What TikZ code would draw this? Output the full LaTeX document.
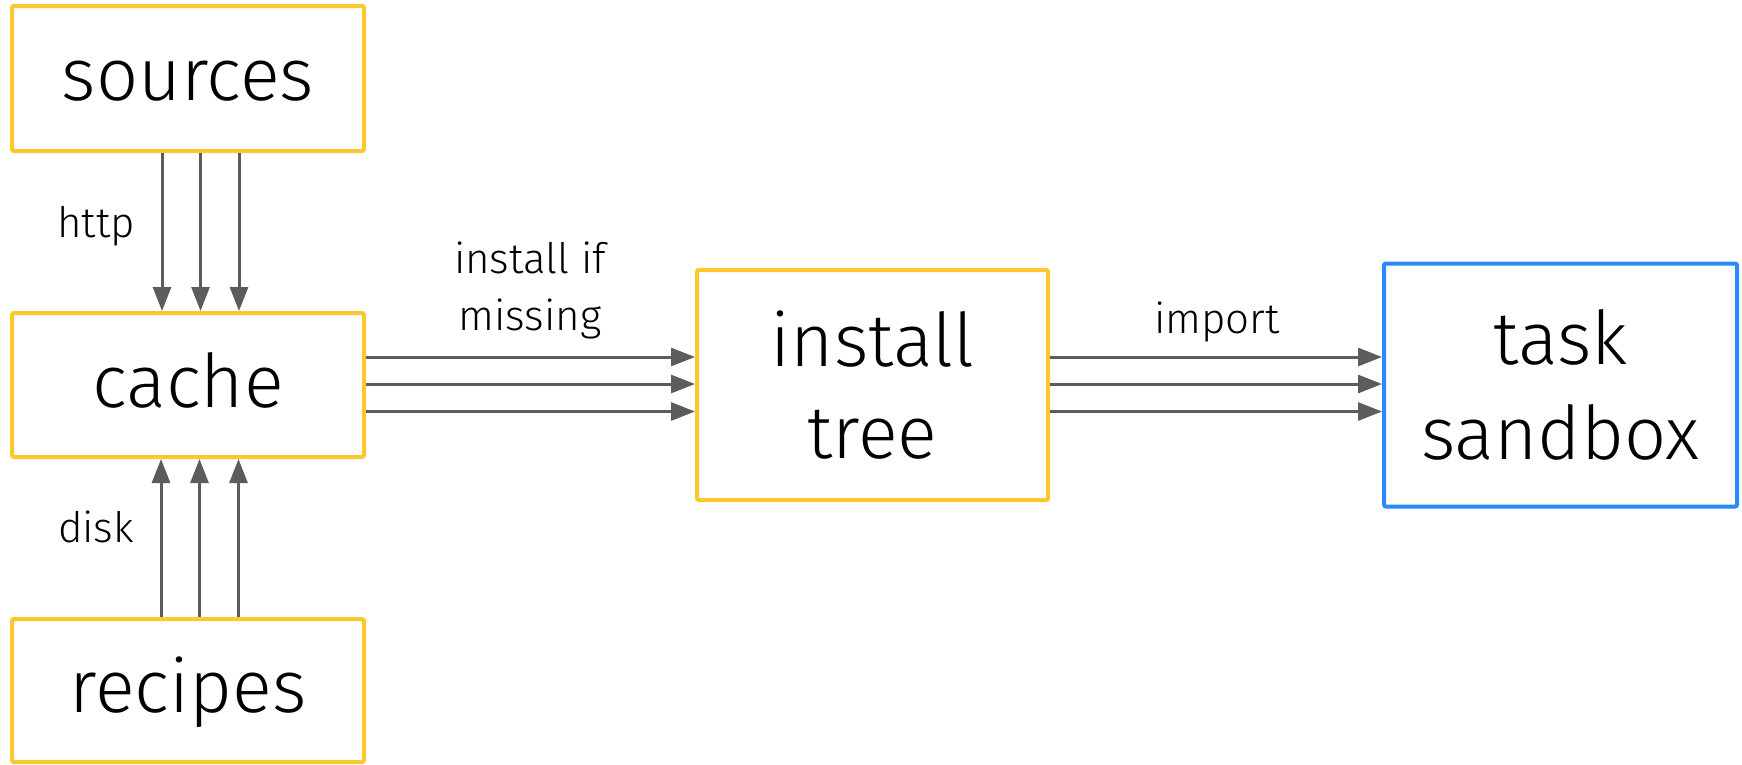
\documentclass[tikz,border=0pt]{standalone}
\usepackage{fontspec}
\setmainfont{Fira Sans}[UprightFont={* Light}]
\usetikzlibrary{arrows.meta}
\definecolor{boxyellow}{RGB}{251,200,46}
\definecolor{boxblue}{RGB}{42,138,250}
\definecolor{arrowgray}{RGB}{92,92,92}
\tikzset{
  stagebox/.style={draw=boxyellow, line width=4pt, rounded corners=2pt,
    inner sep=0pt, align=center, font=\fontsize{74}{92}\selectfont},
  sandboxbox/.style={stagebox, draw=boxblue, font=\fontsize{74}{95}\selectfont},
  flow/.style={draw=arrowgray, line width=3pt,
    -{Triangle[length=24pt,width=18pt]}},
  tag/.style={inner sep=0pt, align=center, font=\fontsize{42}{57}\selectfont},
}
\begin{document}
\begin{tikzpicture}[x=1pt,y=-1pt]
\useasboundingbox (0,0) rectangle (1742,764);

% pipeline stages
\node[stagebox, minimum width=352pt, minimum height=145pt, text height=44pt, text depth=0pt]
  (sources) at (188,78.5) {sources};
\node[stagebox, minimum width=352pt, minimum height=144pt, text height=44pt, text depth=0pt]
  (cache) at (188,385) {cache};
\node[stagebox, minimum width=352pt, minimum height=143pt, text height=44pt, text depth=0pt]
  (recipes) at (188,690.5) {recipes};
\node[stagebox, minimum width=351pt, minimum height=230pt]
  (install) at (872.5,385) {install\\tree};
\node[sandboxbox, minimum width=353pt, minimum height=243pt]
  (sandbox) at (1560.5,385) {task\\sandbox};

% sources -> cache
\foreach \dx in {-26,12.5,51}
  \draw[flow] ([xshift=\dx pt]sources.south) -- ([xshift=\dx pt]cache.north);
% recipes -> cache
\foreach \dx in {-27,11.5,50.5}
  \draw[flow] ([xshift=\dx pt]recipes.north) -- ([xshift=\dx pt]cache.south);
% cache -> install tree -> task sandbox
\foreach \dy in {28,1,-26.5} {
  \draw[flow] ([yshift=\dy pt]cache.east) -- ([yshift=\dy pt]install.west);
  \draw[flow] ([yshift=\dy pt]install.east) -- ([yshift=\dy pt]sandbox.west);
}

% connector labels
\node[tag, anchor=base] (http) at (96,237) {http};
\node[tag, anchor=base] (disk) at (96,542) {disk};
\node[tag] (missing) at (530,290) {install if\\missing};
\node[tag, anchor=base] (import) at (1217,333) {import};
\end{tikzpicture}
\end{document}
